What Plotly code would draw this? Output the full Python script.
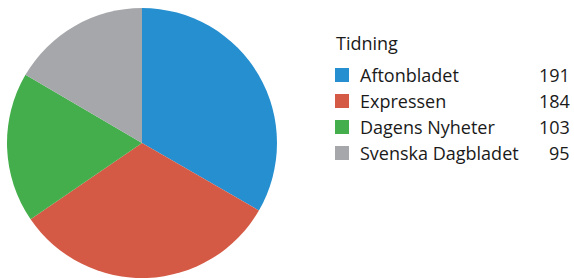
import plotly.graph_objects as go

W, H = 574, 278
categories = ["Aftonbladet", "Expressen", "Dagens Nyheter", "Svenska Dagbladet"]
values = [191, 184, 103, 95]
colors = ["#268FD0", "#D55A45", "#43AE4B", "#A6A7AB"]
legend_title = "Tidning"

fig = go.Figure(go.Pie(
    labels=categories, values=values, sort=False, direction="clockwise",
    rotation=0, marker=dict(colors=colors, line=dict(width=0)),
    textinfo="none", hoverinfo="label+value", showlegend=False,
    domain=dict(x=[7 / W, 277 / W], y=[1 - 278 / H, 1 - 8 / H]),
))

FONT = "Open Sans"
fs = 18
ann = [dict(x=334 / W, y=1 - 43 / H, xref="paper", yref="paper", text=legend_title,
            showarrow=False, xanchor="left", yanchor="middle",
            font=dict(family=FONT, size=fs, color="#1a1a1a"))]
shapes = []
y0 = 75
step = 26
for i, (c, v, col) in enumerate(zip(categories, values, colors)):
    yc = y0 + i * step
    shapes.append(dict(type="rect", xref="paper", yref="paper",
                       x0=335 / W, x1=349 / W, y0=1 - (yc - 7) / H, y1=1 - (yc + 7) / H,
                       fillcolor=col, line=dict(width=0)))
    ann.append(dict(x=358 / W, y=1 - yc / H, xref="paper", yref="paper", text=c,
                    showarrow=False, xanchor="left", yanchor="middle",
                    font=dict(family=FONT, size=fs, color="#1a1a1a")))
    ann.append(dict(x=572 / W, y=1 - yc / H, xref="paper", yref="paper", text=str(v),
                    showarrow=False, xanchor="right", yanchor="middle",
                    font=dict(family=FONT, size=fs, color="#1a1a1a")))

fig.update_layout(width=W, height=H, margin=dict(l=0, r=0, t=0, b=0),
                  paper_bgcolor="white", plot_bgcolor="white",
                  annotations=ann, shapes=shapes)
fig.write_html("out.html", config={"displayModeBar": False},
               post_script="document.body.style.margin='0';document.body.style.overflow='hidden';")
